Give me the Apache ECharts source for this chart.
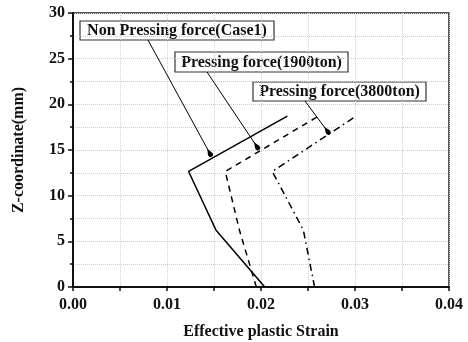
<!DOCTYPE html>
<html>
<head>
<meta charset="utf-8">
<script src="https://cdn.jsdelivr.net/npm/echarts@6/dist/echarts.min.js"></script>
<style>
  html, body { margin: 0; padding: 0; background: #fff; }
  #chart { width: 468px; height: 342px; }
</style>
</head>
<body>
<div id="chart"></div>
<script>
// Z positions along the part (mm) shared by all three profiles
const zCoord = [0, 6.25, 12.65, 18.7];

// Effective plastic strain at each Z position
const strainCase1 = [0.0204, 0.0152, 0.0123, 0.0228];
const strain1900 = [0.0195, 0.0177, 0.0162, 0.0261];
const strain3800 = [0.0257, 0.0245, 0.0212, 0.0301];

// Callout labels and the data point each leader line points at
const calloutText = ['Non Pressing force(Case1)', 'Pressing force(1900ton)', 'Pressing force(3800ton)'];
const calloutTarget = [[0.0145, 14.74], [0.0195, 15.47], [0.0270, 17.15]];

const FONT = '"Liberation Serif", "Times New Roman", serif';

const chart = echarts.init(document.getElementById('chart'), null, { renderer: 'canvas' });

function pairs(xs, ys) { return xs.map((x, i) => [x, ys[i]]); }

// Box placement (pixel) and leader start point for each callout
const boxes = [
  { x: 80, y: 21, w: 194, h: 19, from: [148, 40] },
  { x: 175, y: 52, w: 173, h: 20, from: [207, 72] },
  { x: 253, y: 82, w: 173, h: 19, from: [305, 101] }
];

const dropSymbol = 'path://M5,20 C4.5,14 0,9 0,5 A5,5 0 0,1 10,5 C10,9 5.5,14 5,20 Z';

const lineBase = { type: 'line', symbol: 'none', silent: true, animation: false };

const option = {
  animation: false,
  grid: { left: 73, right: 19, top: 13, bottom: 55, containLabel: false, outerBoundsMode: 'none',
    show: true, borderColor: '#222', borderWidth: 1.5, backgroundColor: 'transparent' },
  xAxis: {
    type: 'value', min: 0, max: 0.04, interval: 0.01,
    name: 'Effective plastic Strain', nameLocation: 'middle', nameGap: 37,
    nameTextStyle: { fontFamily: FONT, fontWeight: 'bold', fontSize: 16, color: '#111' },
    axisLine: { show: true, lineStyle: { color: '#111', width: 2 } },
    axisTick: { show: true, inside: false, length: 4, lineStyle: { color: '#111', width: 1.5 } },
    minorTick: { show: true, splitNumber: 2, length: 4, lineStyle: { color: '#111', width: 1.5 } },
    axisLabel: { fontFamily: FONT, fontWeight: 'bold', fontSize: 16, color: '#111', margin: 10,
      formatter: v => v.toFixed(2) },
    splitLine: { show: true, lineStyle: { color: '#cfcfcf', type: 'dotted', width: 1 } },
    minorSplitLine: { show: true, lineStyle: { color: '#cfcfcf', type: 'dotted', width: 1 } }
  },
  yAxis: {
    type: 'value', min: 0, max: 30, interval: 5,
    name: 'Z-coordinate(mm)', nameLocation: 'middle', nameGap: 46, nameRotate: 90,
    nameTextStyle: { fontFamily: FONT, fontWeight: 'bold', fontSize: 16, color: '#111' },
    axisLine: { show: true, lineStyle: { color: '#111', width: 2 } },
    axisTick: { show: true, inside: false, length: 5, lineStyle: { color: '#111', width: 1.5 } },
    minorTick: { show: true, splitNumber: 2, length: 3, lineStyle: { color: '#111', width: 1.5 } },
    axisLabel: { fontFamily: FONT, fontWeight: 'bold', fontSize: 16, color: '#111', margin: 8 },
    splitLine: { show: true, lineStyle: { color: '#cfcfcf', type: 'dotted', width: 1 } },
    minorSplitLine: { show: true, lineStyle: { color: '#cfcfcf', type: 'dotted', width: 1 } }
  },
  series: [
    Object.assign({}, lineBase, {
      name: calloutText[0], data: pairs(strainCase1, zCoord),
      lineStyle: { color: '#000', width: 1.5, type: 'solid' }
    }),
    Object.assign({}, lineBase, {
      name: calloutText[1], data: pairs(strain1900, zCoord),
      lineStyle: { color: '#000', width: 1.5, type: [6, 5] }
    }),
    Object.assign({}, lineBase, {
      name: calloutText[2], data: pairs(strain3800, zCoord),
      lineStyle: { color: '#000', width: 1.5, type: [7, 4, 1.5, 4] }
    })
  ]
};

// Leader lines from each callout box to its curve
option.series.forEach((s, i) => {
  s.markLine = {
    silent: true, animation: false,
    symbol: ['none', dropSymbol], symbolSize: [5, 10],
    label: { show: false },
    lineStyle: { color: '#000', width: 1, type: 'solid' },
    data: [[{ x: boxes[i].from[0], y: boxes[i].from[1] }, { coord: calloutTarget[i] }]]
  };
});

// Callout boxes with their text
option.graphic = boxes.map((b, i) => ({
  type: 'group', z: 100,
  children: [
    { type: 'rect', shape: { x: b.x, y: b.y, width: b.w, height: b.h },
      style: { fill: '#fff', stroke: '#333', lineWidth: 1.2 } },
    { type: 'text', x: b.x + b.w / 2, y: b.y + b.h / 2 + 0.5,
      style: { text: calloutText[i], fill: '#111', fontFamily: FONT, fontWeight: 'bold', fontSize: 16,
        align: 'center', verticalAlign: 'middle' } }
  ]
}));

chart.setOption(option);
</script>
</body>
</html>
